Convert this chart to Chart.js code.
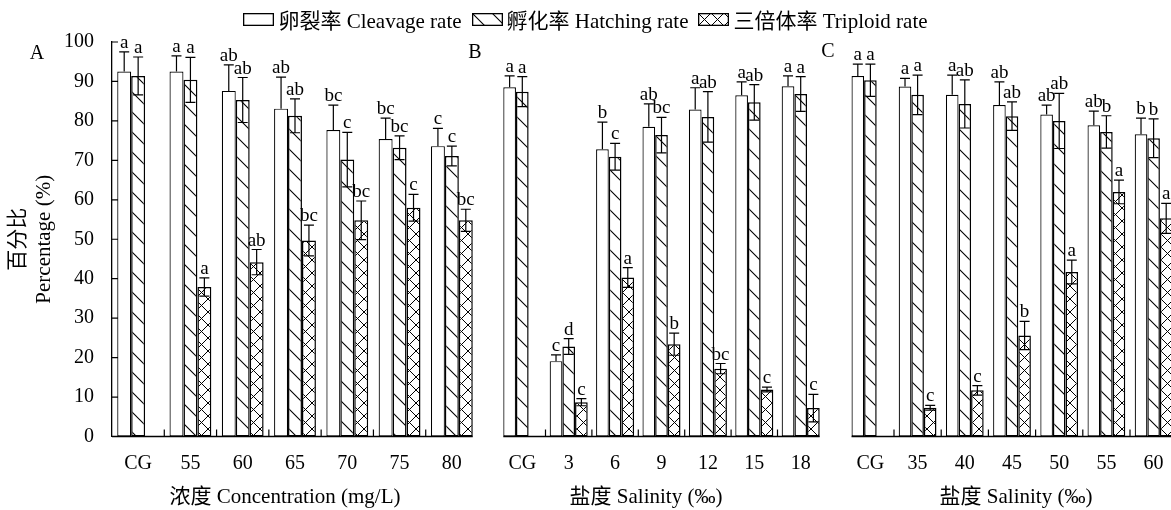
<!DOCTYPE html>
<html>
<head>
<meta charset="utf-8">
<script src="https://cdn.jsdelivr.net/npm/chart.js@4.4.1/dist/chart.umd.min.js"></script>
<style>
  body { margin: 0; width: 1171px; height: 510px; overflow: hidden; position: relative; background: #fff; }
  canvas.panel { position: absolute; top: 0; }
  #legend {
    position: absolute; top: 7px; left: 0; width: 1171px; height: 24px;
    display: flex; justify-content: center; align-items: center;
    font: 21px 'Liberation Serif', 'Times New Roman', 'Noto Sans CJK SC', serif;
    white-space: nowrap; z-index: 2;
  }
  #legend .item { display: flex; align-items: center; margin: 0 5px; }
  #legend canvas { margin-right: 4px; }
</style>
</head>
<body>
<div id="legend">
  <span class="item"><canvas id="swCleavage" width="31" height="13"></canvas>卵裂率 Cleavage rate</span>
  <span class="item"><canvas id="swHatching" width="31" height="13"></canvas>孵化率 Hatching rate</span>
  <span class="item"><canvas id="swTriploid" width="31" height="13"></canvas>三倍体率 Triploid rate</span>
</div>
<canvas id="chartA" class="panel" width="480" height="510" style="left:0px"></canvas>
<canvas id="chartB" class="panel" width="380" height="510" style="left:460px"></canvas>
<canvas id="chartC" class="panel" width="380" height="510" style="left:810px"></canvas>
<script>
// ---- data ----
const categoriesA = ["CG", "55", "60", "65", "70", "75", "80"];
const cleavageA = [92.5, 92.5, 87.6, 83.1, 77.7, 75.4, 73.6];
const cleavageErrA = [5.0, 4.0, 6.6, 8.0, 6.3, 5.3, 4.5];
const hatchingA = [91.4, 90.4, 85.3, 81.3, 70.2, 73.2, 71.1];
const hatchingErrA = [4.8, 5.7, 5.7, 4.3, 6.9, 3.0, 2.5];
const triploidA = [null, 37.9, 44.2, 49.7, 54.8, 58.0, 54.8];
const triploidErrA = [0, 2.3, 3.2, 3.9, 4.9, 3.4, 2.8];
const cleavageLettersA = ["a", "a", "ab", "ab", "bc", "bc", "c"];
const hatchingLettersA = ["a", "a", "ab", "ab", "c", "bc", "c"];
const triploidLettersA = ["", "a", "ab", "bc", "bc", "c", "bc"];

const categoriesB = ["CG", "3", "6", "9", "12", "15", "18"];
const cleavageB = [88.5, 19.1, 72.8, 78.5, 82.9, 86.5, 88.8];
const cleavageErrB = [2.9, 1.6, 6.9, 5.8, 5.5, 3.4, 2.6];
const hatchingB = [87.4, 22.8, 70.9, 76.4, 81.0, 84.7, 86.8];
const hatchingErrB = [3.8, 2.0, 3.4, 4.5, 6.4, 4.5, 4.4];
const triploidB = [null, 8.7, 40.3, 23.4, 17.2, 11.9, 7.2];
const triploidErrB = [0, 0.9, 2.5, 2.8, 1.3, 0.6, 3.5];
const cleavageLettersB = ["a", "c", "b", "ab", "a", "a", "a"];
const hatchingLettersB = ["a", "d", "c", "bc", "ab", "ab", "a"];
const triploidLettersB = ["", "c", "a", "b", "bc", "c", "c"];

const categoriesC = ["CG", "35", "40", "45", "50", "55", "60"];
const cleavageC = [91.4, 88.7, 86.6, 84.0, 81.6, 78.9, 76.6];
const cleavageErrC = [3.0, 2.1, 5.0, 5.9, 2.4, 3.6, 4.1];
const hatchingC = [90.3, 86.6, 84.3, 81.2, 80.0, 77.2, 75.6];
const hatchingErrC = [4.1, 5.0, 6.1, 3.6, 7.0, 4.1, 4.9];
const triploidC = [null, 7.3, 11.7, 25.6, 41.7, 62.0, 55.3];
const triploidErrC = [0, 0.6, 1.2, 3.6, 3.0, 3.0, 3.8];
const cleavageLettersC = ["a", "a", "a", "ab", "ab", "ab", "b"];
const hatchingLettersC = ["a", "a", "ab", "ab", "ab", "b", "b"];
const triploidLettersC = ["", "c", "c", "b", "a", "a", "a"];

const yTicks = [0, 10, 20, 30, 40, 50, 60, 70, 80, 90, 100];

const FONT = "'Liberation Serif', 'Times New Roman', 'Noto Sans CJK SC', serif";
Chart.defaults.font.family = FONT;
Chart.defaults.color = "#000";

// fill patterns
function hatchPattern() {
  const c = document.createElement("canvas");
  c.width = 20; c.height = 20;
  const g = c.getContext("2d");
  g.fillStyle = "#fff"; g.fillRect(0, 0, 20, 20);
  g.strokeStyle = "#000"; g.lineWidth = 1.1;
  g.beginPath();
  for (let k = -1; k <= 1; k++) { g.moveTo(-2 + k * 20, -2); g.lineTo(22 + k * 20, 22); }
  g.stroke();
  return g.createPattern(c, "repeat");
}
function crossPattern() {
  const s = 13;
  const c = document.createElement("canvas");
  c.width = s; c.height = s;
  const g = c.getContext("2d");
  g.fillStyle = "#fff"; g.fillRect(0, 0, s, s);
  g.strokeStyle = "#000"; g.lineWidth = 1;
  g.beginPath();
  for (let k = -1; k <= 1; k++) {
    g.moveTo(-2 + k * s, -2); g.lineTo(s + 2 + k * s, s + 2);
    g.moveTo(-2 + k * s, s + 2); g.lineTo(s + 2 + k * s, -2);
  }
  g.stroke();
  return g.createPattern(c, "repeat");
}
const hatchFill = hatchPattern();
const crossFill = crossPattern();

function drawSwatch(id, fill) {
  const c = document.getElementById(id);
  const g = c.getContext("2d");
  g.fillStyle = fill;
  g.fillRect(0, 0, c.width, c.height);
  g.strokeStyle = "#000"; g.lineWidth = 1.3;
  g.strokeRect(0.65, 0.65, c.width - 1.3, c.height - 1.3);
}
drawSwatch("swCleavage", "#fff");
drawSwatch("swHatching", hatchFill);
drawSwatch("swTriploid", crossFill);

// error bars, letters, axis line, inner ticks, panel letter, x title
const panelDecor = {
  id: "panelDecor",
  afterDatasetsDraw(chart, args, o) {
    const ctx = chart.ctx;
    const area = chart.chartArea;
    const ys = chart.scales.y;
    const xs = chart.scales.x;
    ctx.save();
    ctx.strokeStyle = "#000";
    ctx.fillStyle = "#000";

    chart.data.datasets.forEach((ds, i) => {
      const meta = chart.getDatasetMeta(i);
      meta.data.forEach((bar, j) => {
        const v = ds.data[j];
        if (v == null) return;
        const e = ds.errors[j];
        const top = ys.getPixelForValue(v + e);
        ctx.lineWidth = 1.2;
        ctx.beginPath();
        ctx.moveTo(bar.x, bar.y); ctx.lineTo(bar.x, top);
        ctx.moveTo(bar.x - 5, top); ctx.lineTo(bar.x + 5, top);
        if (ds.bothSides) {
          const low = ys.getPixelForValue(v - e);
          ctx.moveTo(bar.x, bar.y); ctx.lineTo(bar.x, low);
          ctx.moveTo(bar.x - 5, low); ctx.lineTo(bar.x + 5, low);
        }
        ctx.stroke();
        if (ds.letters[j]) {
          ctx.font = "19px " + FONT;
          ctx.textAlign = "center";
          ctx.textBaseline = "alphabetic";
          ctx.fillText(ds.letters[j], bar.x, top - 4);
        }
      });
    });

    // x axis line
    const first = chart.getDatasetMeta(0).data[0];
    const lastMeta = chart.getDatasetMeta(chart.data.datasets.length - 1);
    const last = lastMeta.data[lastMeta.data.length - 1];
    const x0 = o.fromAxis ? area.left : first.x - first.width / 2;
    const x1 = last.x + last.width / 2;
    ctx.lineWidth = 1.5;
    ctx.beginPath();
    ctx.moveTo(x0, area.bottom); ctx.lineTo(x1, area.bottom);
    ctx.stroke();

    // tick marks between categories, pointing up
    const n = chart.data.labels.length;
    const step = (xs.right - xs.left) / n;
    ctx.lineWidth = 1.2;
    ctx.beginPath();
    for (let k = 1; k < n; k++) {
      const px = xs.left + k * step;
      ctx.moveTo(px, area.bottom); ctx.lineTo(px, area.bottom - 7);
    }
    if (o.yTicks) {
      yTicks.forEach(v => {
        const py = ys.getPixelForValue(v);
        ctx.moveTo(area.left, py); ctx.lineTo(area.left + 6, py);
      });
    }
    ctx.stroke();

    ctx.textAlign = "center";
    ctx.textBaseline = "middle";
    ctx.font = "20px " + FONT;
    ctx.fillText(o.letter, o.letterX - o.offset, o.letterY);
    ctx.font = "21px " + FONT;
    ctx.fillText(o.xTitle, o.titleX - o.offset, 497);
    ctx.restore();
  }
};

function buildPanel(p) {
  const common = { borderColor: "#000", borderSkipped: false, barPercentage: 1, categoryPercentage: p.catPct };
  return new Chart(document.getElementById(p.canvas), {
    type: "bar",
    data: {
      labels: p.categories,
      datasets: [
        Object.assign({ label: "卵裂率 Cleavage rate", data: p.cleavage, errors: p.cleavageErr,
          letters: p.cleavageLetters, bothSides: false, backgroundColor: "#fff", borderWidth: 1.2 }, common),
        Object.assign({ label: "孵化率 Hatching rate", data: p.hatching, errors: p.hatchingErr,
          letters: p.hatchingLetters, bothSides: true, backgroundColor: hatchFill, borderWidth: 1.5 }, common),
        Object.assign({ label: "三倍体率 Triploid rate", data: p.triploid, errors: p.triploidErr,
          letters: p.triploidLetters, bothSides: true, backgroundColor: crossFill, borderWidth: 1.5 }, common)
      ]
    },
    options: {
      responsive: false,
      animation: false,
      layout: { padding: p.pad },
      plugins: {
        legend: { display: false },
        tooltip: { enabled: false },
        panelDecor: {
          fromAxis: p.showY, yTicks: p.showY, offset: p.offset,
          letter: p.letter, letterX: p.letterX, letterY: p.letterY,
          xTitle: p.xTitle, titleX: p.titleX
        }
      },
      scales: {
        x: {
          grid: { display: false, drawTicks: false },
          border: { display: false },
          ticks: { font: { size: 20 }, padding: 15, color: "#000", maxRotation: 0, autoSkip: false },
          afterFit(s) { s.height = 73.5; }
        },
        y: {
          display: p.showY,
          min: 0, max: 100,
          grid: { display: false, drawTicks: false },
          border: { display: true, color: "#000", width: 1.3 },
          ticks: { stepSize: 10, font: { size: 20 }, padding: 18, color: "#000" },
          title: {
            display: true,
            text: ["百分比", "Percentage (%)"],
            font: { size: 21, lineHeight: 1.26 },
            padding: { top: 5, bottom: 0 }
          },
          afterFit(s) { s.width = p.showY ? 112 : 0; }
        }
      }
    },
    plugins: [panelDecor]
  });
}

buildPanel({
  canvas: "chartA", offset: 0, showY: true, catPct: 0.8,
  pad: { left: 0, right: 2, top: 42, bottom: 0 },
  categories: categoriesA,
  cleavage: cleavageA, cleavageErr: cleavageErrA, cleavageLetters: cleavageLettersA,
  hatching: hatchingA, hatchingErr: hatchingErrA, hatchingLetters: hatchingLettersA,
  triploid: triploidA, triploidErr: triploidErrA, triploidLetters: triploidLettersA,
  letter: "A", letterX: 37, letterY: 54,
  xTitle: "浓度 Concentration (mg/L)", titleX: 285
});

buildPanel({
  canvas: "chartB", offset: 460, showY: false, catPct: 0.82,
  pad: { left: 39.1, right: 16.1, top: 42, bottom: 0 },
  categories: categoriesB,
  cleavage: cleavageB, cleavageErr: cleavageErrB, cleavageLetters: cleavageLettersB,
  hatching: hatchingB, hatchingErr: hatchingErrB, hatchingLetters: hatchingLettersB,
  triploid: triploidB, triploidErr: triploidErrB, triploidLetters: triploidLettersB,
  letter: "B", letterX: 475, letterY: 53,
  xTitle: "盐度 Salinity (‰)", titleX: 646
});

buildPanel({
  canvas: "chartC", offset: 810, showY: false, catPct: 0.8,
  pad: { left: 36.8, right: 12.8, top: 42, bottom: 0 },
  categories: categoriesC,
  cleavage: cleavageC, cleavageErr: cleavageErrC, cleavageLetters: cleavageLettersC,
  hatching: hatchingC, hatchingErr: hatchingErrC, hatchingLetters: hatchingLettersC,
  triploid: triploidC, triploidErr: triploidErrC, triploidLetters: triploidLettersC,
  letter: "C", letterX: 828, letterY: 52,
  xTitle: "盐度 Salinity (‰)", titleX: 1016
});
</script>
</body>
</html>
